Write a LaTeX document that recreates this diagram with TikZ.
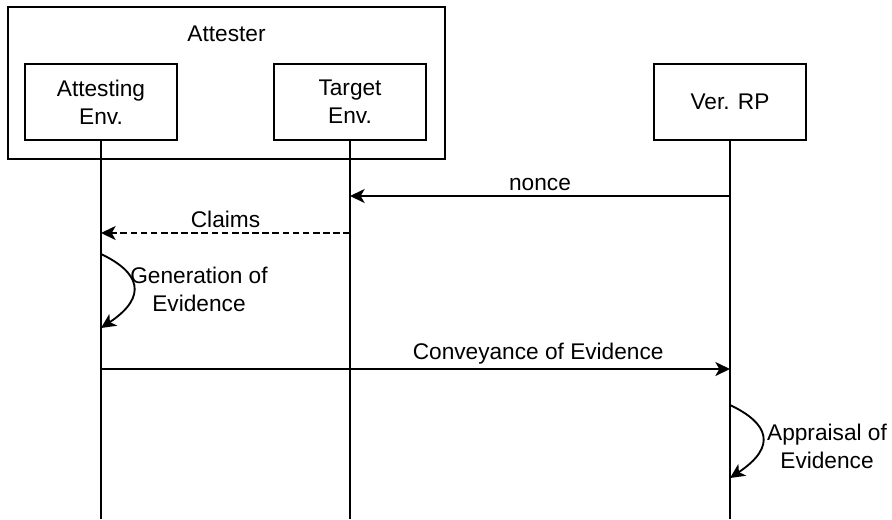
\documentclass[tikz,border=0pt]{standalone}
\usepackage{fontspec}
\setmainfont{Liberation Sans}
\usetikzlibrary{arrows.meta,positioning,calc}
\tikzset{
  groupbox/.style={draw=black,line width=1.4pt,minimum width=327.75pt,
    minimum height=114pt,inner sep=0pt},
  envbox/.style={draw=black,line width=1.4pt,minimum width=114pt,
    minimum height=57pt,align=center,inner sep=0pt},
  lifeline/.style={line width=1.4pt,draw=black},
  msgarrow/.style={-{Stealth[length=11pt,width=10.5pt,inset=3pt]},
    line width=1.4pt,draw=black},
  replyarrow/.style={msgarrow,dash pattern=on 5pt off 2.6pt},
  selfarrow/.style={msgarrow},
  msglabel/.style={anchor=south,inner sep=3pt},
}
\begin{document}
\begin{tikzpicture}[x=0.75pt,y=-0.75pt,
    font=\fontsize{17}{21}\selectfont]
  \useasboundingbox (0,0) rectangle (892,519);
  \node[groupbox] (attester) at (226.5,83) {};
  \node (attlbl) at ($(attester.north)+(0,28)$) {Attester};
  \node[envbox] (attenv) at (101,102) {Attesting\\Env.};
  \node[envbox] (tgtenv) at (350,102) {Target\\Env.};
  \node[envbox] (verrp) at (730,102) {Ver. RP};

  \coordinate (bottom) at (0,519);
  \draw[lifeline] (attenv.south) -- (attenv.south |- bottom);
  \draw[lifeline] (tgtenv.south) -- (tgtenv.south |- bottom);
  \draw[lifeline] (verrp.south) -- (verrp.south |- bottom);

  \coordinate (nonce) at (0,196);
  \coordinate (claims) at (0,233);
  \coordinate (gen0) at (0,254);
  \coordinate (gen1) at (0,328);
  \coordinate (conv) at (0,369);
  \coordinate (appr0) at (0,405);
  \coordinate (appr1) at (0,478);

  \draw[msgarrow] (verrp.south |- nonce) -- node[msglabel] {nonce}
    (tgtenv.south |- nonce);
  \draw[replyarrow] (tgtenv.south |- claims) -- node[msglabel] {Claims}
    (attenv.south |- claims);
  \draw[selfarrow] (attenv.south |- gen0) .. controls +(38,18) and +(48,-32)
    .. (attenv.south |- gen1);
  \node[align=center] (genlbl) at (199,289) {Generation of\\Evidence};
  \draw[msgarrow] (attenv.south |- conv) -- node[msglabel,pos=0.695]
    {Conveyance of Evidence} (verrp.south |- conv);
  \draw[selfarrow] (verrp.south |- appr0) .. controls +(38,18) and +(48,-32)
    .. (verrp.south |- appr1);
  \node[align=center] (apprlbl) at (827,446) {Appraisal of\\Evidence};
\end{tikzpicture}
\end{document}
